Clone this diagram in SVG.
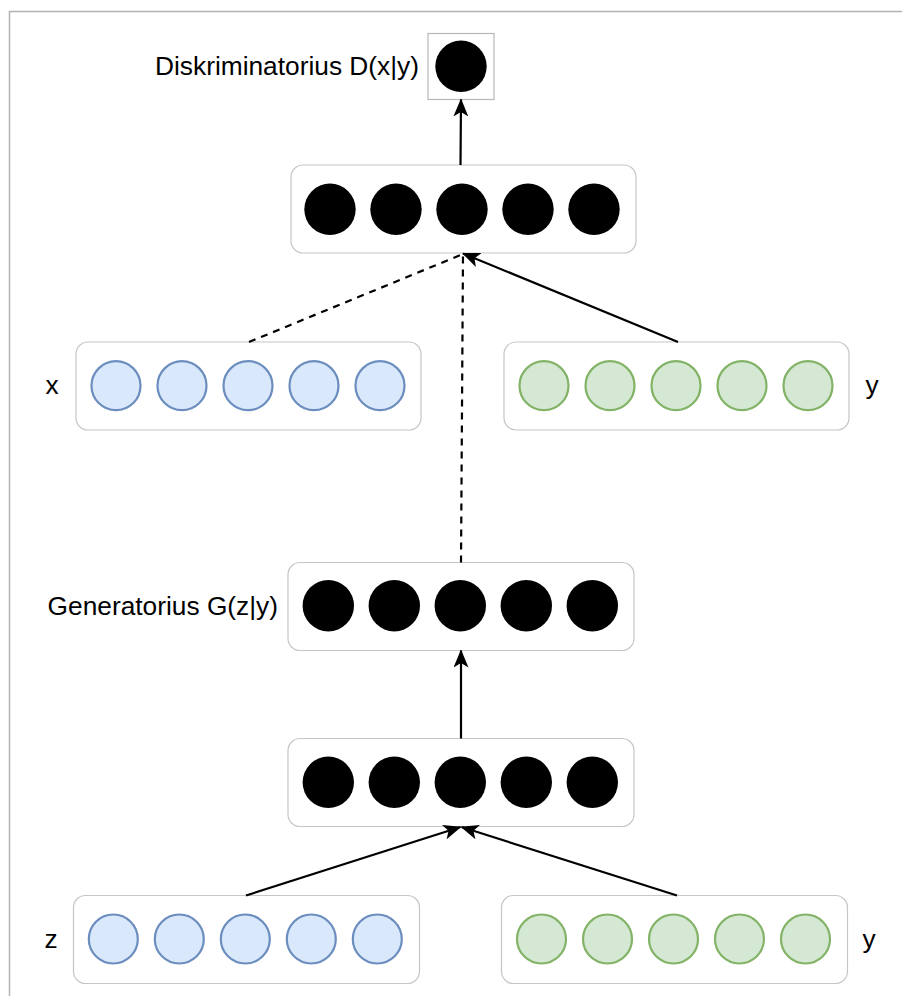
<svg xmlns="http://www.w3.org/2000/svg" width="902" height="996" viewBox="0 0 902 996">
  <style>
    .frame { fill: none; stroke: #b3b3b3; stroke-width: 1.5; }
    .box { fill: #ffffff; stroke: #c6c6c6; stroke-width: 1.2; }
    .sq { fill: #ffffff; stroke: #b8b8b8; stroke-width: 1.2; }
    .blk { fill: #000000; }
    .blue { fill: #dae8fc; stroke: #6c8ebf; stroke-width: 2.2; }
    .green { fill: #d5e8d4; stroke: #82b366; stroke-width: 2.2; }
    .lbl { font-family: "Liberation Sans", Arial, sans-serif; font-size: 26.3px; fill: #000000; }
    .edge { fill: none; stroke: #000000; stroke-width: 2.2; }
    .dash { stroke-dasharray: 7 6; }
  </style>
  <defs>
    <marker id="arrow" viewBox="0 0 18 15" refX="17" refY="7.5" markerWidth="18" markerHeight="15" markerUnits="userSpaceOnUse" orient="auto">
      <path d="M0,0 L18,7.5 L0,15 L4.5,7.5 Z" fill="#000000"/>
    </marker>
    <g id="blk5">
      <circle cx="0" cy="0" r="25.7" class="blk"/>
      <circle cx="66" cy="0" r="25.7" class="blk"/>
      <circle cx="132" cy="0" r="25.7" class="blk"/>
      <circle cx="198" cy="0" r="25.7" class="blk"/>
      <circle cx="264" cy="0" r="25.7" class="blk"/>
    </g>
    <g id="blue5">
      <circle cx="0" cy="0" r="24.5" class="blue"/>
      <circle cx="66" cy="0" r="24.5" class="blue"/>
      <circle cx="132" cy="0" r="24.5" class="blue"/>
      <circle cx="198" cy="0" r="24.5" class="blue"/>
      <circle cx="264" cy="0" r="24.5" class="blue"/>
    </g>
    <g id="green5">
      <circle cx="0" cy="0" r="24.5" class="green"/>
      <circle cx="66" cy="0" r="24.5" class="green"/>
      <circle cx="132" cy="0" r="24.5" class="green"/>
      <circle cx="198" cy="0" r="24.5" class="green"/>
      <circle cx="264" cy="0" r="24.5" class="green"/>
    </g>
  </defs>

  <rect x="0" y="0" width="902" height="996" fill="#ffffff"/>
  <path d="M9.5,996 V11.5 H902" class="frame"/>

  <!-- discriminator output -->
  <g id="d-out">
    <rect x="428" y="33.5" width="66" height="66" class="sq"/>
    <circle cx="461" cy="66.3" r="25.7" class="blk"/>
    <text x="419" y="75" class="lbl" text-anchor="end">Diskriminatorius D(x|y)</text>
  </g>

  <!-- discriminator hidden layer -->
  <g id="d-hidden">
    <rect x="291" y="165" width="345" height="88" rx="12" class="box"/>
    <use href="#blk5" x="330" y="209.3"/>
  </g>

  <!-- real sample x -->
  <g id="x-in">
    <rect x="76" y="342" width="345" height="88" rx="12" class="box"/>
    <use href="#blue5" x="116" y="385.7"/>
    <text x="52" y="394" class="lbl" text-anchor="middle">x</text>
  </g>

  <!-- condition y for discriminator -->
  <g id="y-d">
    <rect x="504" y="342" width="345" height="88" rx="12" class="box"/>
    <use href="#green5" x="544" y="385.7"/>
    <text x="872" y="394" class="lbl" text-anchor="middle">y</text>
  </g>

  <!-- generator output -->
  <g id="g-out">
    <rect x="288" y="562.5" width="346" height="88" rx="12" class="box"/>
    <use href="#blk5" x="328.3" y="605.7"/>
    <text x="278" y="615" class="lbl" text-anchor="end">Generatorius G(z|y)</text>
  </g>

  <!-- generator hidden layer -->
  <g id="g-hidden">
    <rect x="288" y="738.5" width="346" height="88" rx="12" class="box"/>
    <use href="#blk5" x="328.3" y="782.3"/>
  </g>

  <!-- noise z -->
  <g id="z-in">
    <rect x="73.5" y="895.5" width="346" height="88" rx="12" class="box"/>
    <use href="#blue5" x="113.3" y="939"/>
    <text x="51" y="948" class="lbl" text-anchor="middle">z</text>
  </g>

  <!-- condition y for generator -->
  <g id="y-g">
    <rect x="501.5" y="895.5" width="346" height="88" rx="12" class="box"/>
    <use href="#green5" x="541.5" y="939"/>
    <text x="869" y="948" class="lbl" text-anchor="middle">y</text>
  </g>

  <g id="connectors">
    <line x1="460.5" y1="165" x2="461" y2="99.5" class="edge" marker-end="url(#arrow)"/>
    <line x1="249" y1="342" x2="463" y2="254" class="edge dash"/>
    <line x1="461" y1="562.5" x2="463" y2="254" class="edge dash"/>
    <line x1="678" y1="342" x2="463" y2="253.5" class="edge" marker-end="url(#arrow)"/>
    <line x1="461" y1="738.5" x2="461" y2="650.5" class="edge" marker-end="url(#arrow)"/>
    <line x1="246" y1="895.5" x2="460.5" y2="827" class="edge" marker-end="url(#arrow)"/>
    <line x1="677" y1="895.5" x2="461.5" y2="827" class="edge" marker-end="url(#arrow)"/>
  </g>
</svg>
